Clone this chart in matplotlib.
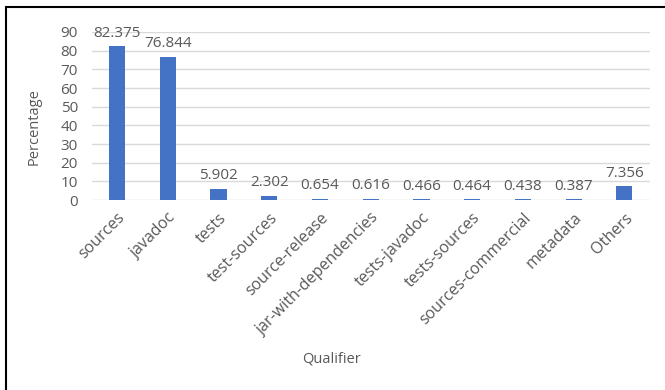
import matplotlib.pyplot as plt
from matplotlib.patches import Rectangle

qualifiers = ['sources', 'javadoc', 'tests', 'test-sources', 'source-release',
              'jar-with-dependencies', 'tests-javadoc', 'tests-sources',
              'sources-commercial', 'metadata', 'Others']
percentages = [82.375, 76.844, 5.902, 2.302, 0.654, 0.616, 0.466, 0.464,
               0.438, 0.387, 7.356]
yticks = [0, 10, 20, 30, 40, 50, 60, 70, 80, 90]

plt.rcParams['font.family'] = ['Open Sans', 'DejaVu Sans']
grey = '#595959'

fig = plt.figure(figsize=(6.65, 3.9), dpi=100)
ax = fig.add_axes([0.138, 0.487, 0.839, 0.431])

x = range(len(qualifiers))
bars = ax.bar(x, percentages, width=0.32, color='#4472C4', zorder=3)

for b, v in zip(bars, percentages):
    ax.annotate(f'{v:g}', (b.get_x() + b.get_width() / 2, v),
                xytext=(0, 4), textcoords='offset points',
                ha='center', va='bottom', fontsize=11, color=grey)

ax.set_xlim(-0.5, len(qualifiers) - 0.5)
ax.set_ylim(0, 90)
ax.set_yticks(yticks)
ax.set_xticks(list(x))
ax.set_xticklabels(qualifiers, rotation=45, ha='right', rotation_mode='anchor')
ax.tick_params(axis='both', length=0, labelsize=11, labelcolor=grey)
ax.tick_params(axis='x', labelsize=11.5, pad=7)
ax.tick_params(axis='y', pad=10)
ax.grid(axis='y', color='#d9d9d9', linewidth=1, zorder=0)
for s in ax.spines.values():
    s.set_visible(False)

ax.set_ylabel('Percentage', fontsize=10.5, color=grey)
ax.yaxis.set_label_coords(-0.09, 0.44)
ax.set_xlabel('Qualifier', fontsize=10.5, color=grey)
ax.xaxis.set_label_coords(0.43, -0.9)

# chart border
fig.patches.append(Rectangle((0.009, -0.05), 1.2, 1.032, transform=fig.transFigure,
                             fill=False, edgecolor='black', linewidth=1.5))

fig.savefig('out.png', dpi=100)
